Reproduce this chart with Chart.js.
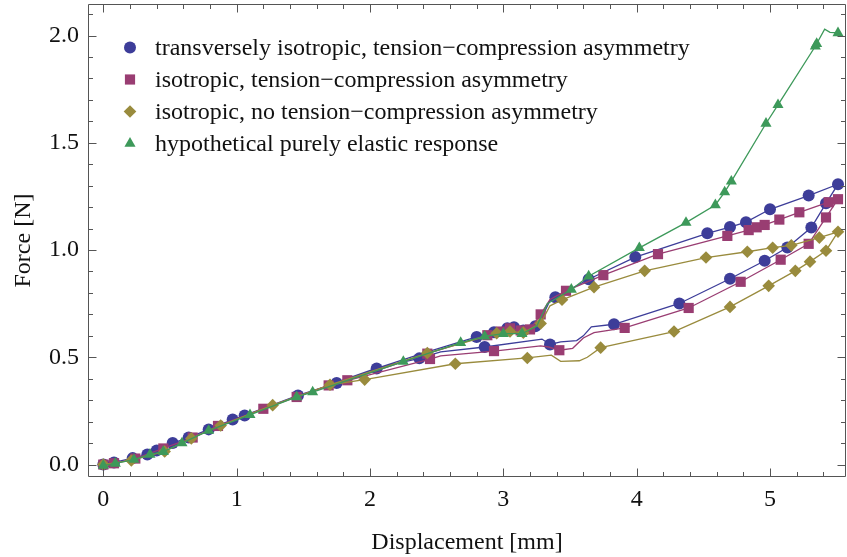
<!DOCTYPE html>
<html><head><meta charset="utf-8">
<script src="https://cdn.jsdelivr.net/npm/chart.js@4/dist/chart.umd.min.js"></script>
<style>html,body{margin:0;padding:0;background:#fff}#wrap{width:847px;height:557px;position:relative}</style>
</head><body><div id="wrap"><canvas id="c"></canvas></div>
<script>
const seriesLabels = [
  'transversely isotropic, tension\u2212compression asymmetry',
  'isotropic, tension\u2212compression asymmetry',
  'isotropic, no tension\u2212compression asymmetry',
  'hypothetical purely elastic response'
];
const xTickValues = [0, 1, 2, 3, 4, 5];
const yTickValues = [0, 0.5, 1, 1.5, 2];
const xTitle = 'Displacement [mm]';
const yTitle = 'Force [N]';

const blueCurve = [[0,0],[0.08,0.01],[0.22,0.03],[0.33,0.047],[0.40,0.065],[0.52,0.10],[0.64,0.126],[0.79,0.164],[0.97,0.21],[1.06,0.229],[1.46,0.322],[1.75,0.38],[2.05,0.448],[2.40,0.52],[2.80,0.595],[2.93,0.617],[3.03,0.635],[3.08,0.64],[3.15,0.625],[3.24,0.645],[3.30,0.70],[3.35,0.765],[3.39,0.78],[3.64,0.864],[3.99,0.967],[4.53,1.078],[4.70,1.107],[4.82,1.13],[5.00,1.19],[5.29,1.254],[5.51,1.307],
  [5.42,1.218],[5.31,1.105],[5.13,1.012],[4.96,0.95],[4.70,0.866],[4.32,0.751],[3.83,0.654],[3.66,0.642],[3.60,0.60],[3.55,0.578],[3.43,0.572],[3.35,0.56],[3.29,0.585],[2.86,0.548],[2.53,0.525],[2.37,0.495],[2.05,0.45],[1.78,0.39]];
const blueMarks = [[0,0],[0.08,0.01],[0.22,0.03],[0.33,0.047],[0.40,0.065],[0.52,0.10],[0.64,0.126],[0.79,0.164],[0.97,0.21],[1.06,0.229],[1.46,0.322],[1.75,0.38],[2.05,0.448],[2.80,0.595],[2.93,0.617],[3.03,0.635],[3.08,0.64],[3.15,0.625],[3.24,0.645],[3.39,0.78],[3.64,0.864],[3.99,0.967],[4.53,1.078],[4.70,1.107],[4.82,1.13],[5.00,1.19],[5.29,1.254],[5.51,1.307],
  [5.42,1.218],[5.31,1.105],[5.13,1.012],[4.96,0.95],[4.70,0.866],[4.32,0.751],[3.83,0.654],[3.35,0.56],[2.86,0.548],[2.37,0.495]];

const pinkCurve = [[0,0],[0.08,0.006],[0.24,0.028],[0.45,0.075],[0.67,0.126],[0.86,0.18],[1.20,0.26],[1.45,0.315],[1.69,0.369],[1.83,0.393],[2.43,0.517],[2.88,0.603],[2.98,0.62],[3.05,0.635],[3.13,0.625],[3.20,0.63],[3.28,0.70],[3.35,0.77],[3.47,0.81],[3.75,0.883],[4.16,0.981],[4.68,1.066],[4.84,1.093],[4.90,1.106],[4.96,1.117],[5.07,1.142],[5.22,1.176],[5.44,1.223],[5.51,1.237],
  [5.42,1.152],[5.29,1.029],[5.08,0.955],[4.78,0.852],[4.39,0.73],[3.91,0.637],[3.68,0.615],[3.60,0.59],[3.52,0.542],[3.42,0.533],[3.34,0.548],[3.28,0.553],[2.93,0.529],[2.53,0.507],[2.45,0.492],[1.85,0.395]];
const pinkMarks = [[0,0],[0.08,0.006],[0.24,0.028],[0.45,0.075],[0.67,0.126],[0.86,0.18],[1.20,0.26],[1.45,0.315],[1.69,0.369],[1.83,0.393],[2.43,0.517],[2.88,0.603],[2.98,0.62],[3.05,0.635],[3.13,0.625],[3.20,0.63],[3.28,0.70],[3.47,0.81],[3.75,0.883],[4.16,0.981],[4.68,1.066],[4.84,1.093],[4.90,1.106],[4.96,1.117],[5.07,1.142],[5.22,1.176],[5.44,1.223],[5.51,1.237],
  [5.42,1.152],[5.29,1.029],[5.08,0.955],[4.78,0.852],[4.39,0.73],[3.91,0.637],[3.42,0.533],[2.93,0.529],[2.45,0.492]];

const oliveCurve = [[0,0],[0.21,0.019],[0.46,0.061],[0.66,0.122],[0.88,0.182],[1.27,0.277],[1.70,0.372],[2.43,0.52],[2.95,0.612],[3.05,0.62],[3.15,0.615],[3.28,0.658],[3.35,0.74],[3.44,0.768],[3.68,0.827],[4.06,0.903],[4.52,0.965],[4.83,0.992],[5.02,1.011],[5.16,1.022],[5.37,1.058],[5.51,1.085],
  [5.42,0.997],[5.30,0.946],[5.19,0.903],[4.99,0.833],[4.70,0.735],[4.28,0.62],[3.73,0.545],[3.63,0.50],[3.57,0.484],[3.43,0.481],[3.36,0.51],[3.18,0.497],[2.64,0.47],[1.96,0.396],[1.70,0.372]];
const oliveMarks = [[0,0],[0.21,0.019],[0.46,0.061],[0.66,0.122],[0.88,0.182],[1.27,0.277],[1.70,0.372],[2.43,0.52],[2.95,0.612],[3.05,0.62],[3.15,0.615],[3.28,0.658],[3.44,0.768],[3.68,0.827],[4.06,0.903],[4.52,0.965],[4.83,0.992],[5.02,1.011],[5.16,1.022],[5.37,1.058],[5.51,1.085],
  [5.42,0.997],[5.30,0.946],[5.19,0.903],[4.99,0.833],[4.70,0.735],[4.28,0.62],[3.73,0.545],[3.18,0.497],[2.64,0.47],[1.96,0.396]];

const greenCurve = [[0,-0.005],[0.09,0.005],[0.23,0.023],[0.35,0.047],[0.45,0.06],[0.59,0.10],[0.79,0.158],[1.10,0.232],[1.45,0.315],[1.57,0.338],[2.25,0.48],[2.68,0.568],[2.86,0.598],[3.00,0.61],[3.14,0.61],[3.25,0.645],[3.33,0.75],[3.51,0.816],[3.64,0.878],[4.02,1.01],[4.37,1.128],[4.59,1.21],[4.66,1.27],[4.71,1.32],[4.97,1.59],[5.06,1.677],[5.34,1.95],[5.35,1.962],[5.41,2.03],[5.45,2.015],[5.51,2.012]];
const greenMarks = [[0,-0.005],[0.09,0.005],[0.23,0.023],[0.35,0.047],[0.45,0.06],[0.59,0.10],[0.79,0.158],[1.10,0.232],[1.45,0.315],[1.57,0.338],[2.25,0.48],[2.68,0.568],[2.86,0.598],[3.00,0.61],[3.14,0.61],[3.51,0.816],[3.64,0.878],[4.02,1.01],[4.37,1.128],[4.59,1.21],[4.66,1.27],[4.71,1.32],[4.97,1.59],[5.06,1.677],[5.34,1.95],[5.35,1.962],[5.51,2.012]];

const colors = ['#3d3d99', '#993d72', '#998b3d', '#3d995a'];
const styles = ['circle', 'rect', 'rectRot', 'triangle'];
const radii = [6, 7.2, 6.3, 6.4];
const curves = [blueCurve, pinkCurve, oliveCurve, greenCurve];
const marks = [blueMarks, pinkMarks, oliveMarks, greenMarks];

const toXY = arr => arr.map(p => ({x: p[0], y: p[1]}));
const datasets = [];
for (let i = 0; i < 4; i++) {
  datasets.push({
    label: seriesLabels[i] + ' curve', data: toXY(curves[i]), showLine: true,
    borderColor: colors[i], borderWidth: 1.3, pointRadius: 0, pointHoverRadius: 0,
    tension: 0, order: 7 - 2 * i, isCurve: true
  });
  datasets.push({
    label: seriesLabels[i], data: toXY(marks[i]), showLine: false,
    pointStyle: styles[i], pointRadius: radii[i], pointHoverRadius: radii[i],
    pointBackgroundColor: colors[i], pointBorderWidth: 0, borderColor: colors[i],
    order: 6 - 2 * i
  });
}

const FONT = '"Liberation Serif", "Times New Roman", serif';

function drawShape(ctx, style, x, y, r) {
  ctx.beginPath();
  if (style === 'circle') { ctx.arc(x, y, r, 0, Math.PI * 2); }
  else if (style === 'rect') { const s = r * Math.SQRT1_2; ctx.rect(x - s, y - s, 2 * s, 2 * s); }
  else if (style === 'rectRot') { ctx.moveTo(x - r, y); ctx.lineTo(x, y - r); ctx.lineTo(x + r, y); ctx.lineTo(x, y + r); ctx.closePath(); }
  else { let a = 0; ctx.moveTo(x + Math.sin(a) * r, y - Math.cos(a) * r); a += 2 * Math.PI / 3; ctx.lineTo(x + Math.sin(a) * r, y - Math.cos(a) * r); a += 2 * Math.PI / 3; ctx.lineTo(x + Math.sin(a) * r, y - Math.cos(a) * r); ctx.closePath(); }
  ctx.fill();
}

const framePlugin = {
  id: 'frameTicks',
  afterDatasetsDraw(chart) {
    const {ctx, chartArea: a, scales: {x, y}} = chart;
    const L = Math.round(a.left) + 0.5, R = Math.round(a.right) - 0.5, T = Math.round(a.top) + 0.5, B = Math.round(a.bottom) - 0.5;
    ctx.save();
    ctx.strokeStyle = '#555'; ctx.lineWidth = 1;
    ctx.beginPath();
    ctx.rect(L, T, R - L, B - T);
    for (let k = 0; k <= 28; k++) {
      const v = k * 0.2; if (v > x.max) break;
      const px = Math.round(x.getPixelForValue(v)) + 0.5;
      const len = (k % 5 === 0) ? 8 : 4.5;
      ctx.moveTo(px, B); ctx.lineTo(px, B - len);
      ctx.moveTo(px, T); ctx.lineTo(px, T + len);
    }
    for (let k = 0; k <= 21; k++) {
      const v = k * 0.1; if (v > y.max) break;
      const py = Math.round(y.getPixelForValue(v)) + 0.5;
      const len = (k % 5 === 0) ? 8 : 4.5;
      ctx.moveTo(L, py); ctx.lineTo(L + len, py);
      ctx.moveTo(R, py); ctx.lineTo(R - len, py);
    }
    ctx.stroke();
    ctx.restore();
  },
  afterDraw(chart) {
    const {ctx, chartArea: a} = chart;
    ctx.save();
    ctx.font = '24px ' + FONT;
    ctx.textBaseline = 'alphabetic';
    ctx.textAlign = 'left';
    let row = 0;
    chart.data.datasets.forEach(ds => {
      if (ds.isCurve) return;
      const cy = a.top + 43.5 + row * 32;
      ctx.fillStyle = ds.pointBackgroundColor;
      drawShape(ctx, ds.pointStyle, a.left + 42, cy, ds.pointRadius);
      ctx.fillStyle = '#111';
      ctx.fillText(ds.label, a.left + 67, cy + 7);
      row++;
    });
    ctx.restore();
  }
};

new Chart(document.getElementById('c'), {
  type: 'scatter',
  data: {datasets},
  options: {
    responsive: true, maintainAspectRatio: false, animation: false, events: [],
    layout: {autoPadding: false, padding: {top: 4, right: 1, left: 0, bottom: 0}},
    plugins: {legend: {display: false}, tooltip: {enabled: false}},
    scales: {
      x: {
        type: 'linear', min: -0.115, max: 5.570,
        afterBuildTicks: s => { s.ticks = xTickValues.map(v => ({value: v})); },
        afterFit: s => { s.height = 80; s.paddingLeft = 0; s.paddingRight = 0; },
        grid: {display: false, drawTicks: false},
        border: {display: false},
        ticks: {padding: 8, color: '#111', font: {family: FONT, size: 24}, callback: v => String(v), maxRotation: 0},
        title: {display: true, text: xTitle, color: '#111', font: {family: FONT, size: 24}, padding: {top: 0, bottom: 0}}
      },
      y: {
        type: 'linear', min: -0.058, max: 2.147,
        afterBuildTicks: s => { s.ticks = yTickValues.map(v => ({value: v})); },
        afterFit: s => { s.width = 88; s.paddingTop = 0; s.paddingBottom = 0; },
        grid: {display: false, drawTicks: false},
        border: {display: false},
        ticks: {padding: 9, color: '#111', font: {family: FONT, size: 24}, callback: v => Number(v).toFixed(1)},
        title: {display: true, text: yTitle, color: '#111', font: {family: FONT, size: 24}, padding: {top: 9, bottom: 0}}
      }
    }
  },
  plugins: [framePlugin]
});
</script></body></html>
